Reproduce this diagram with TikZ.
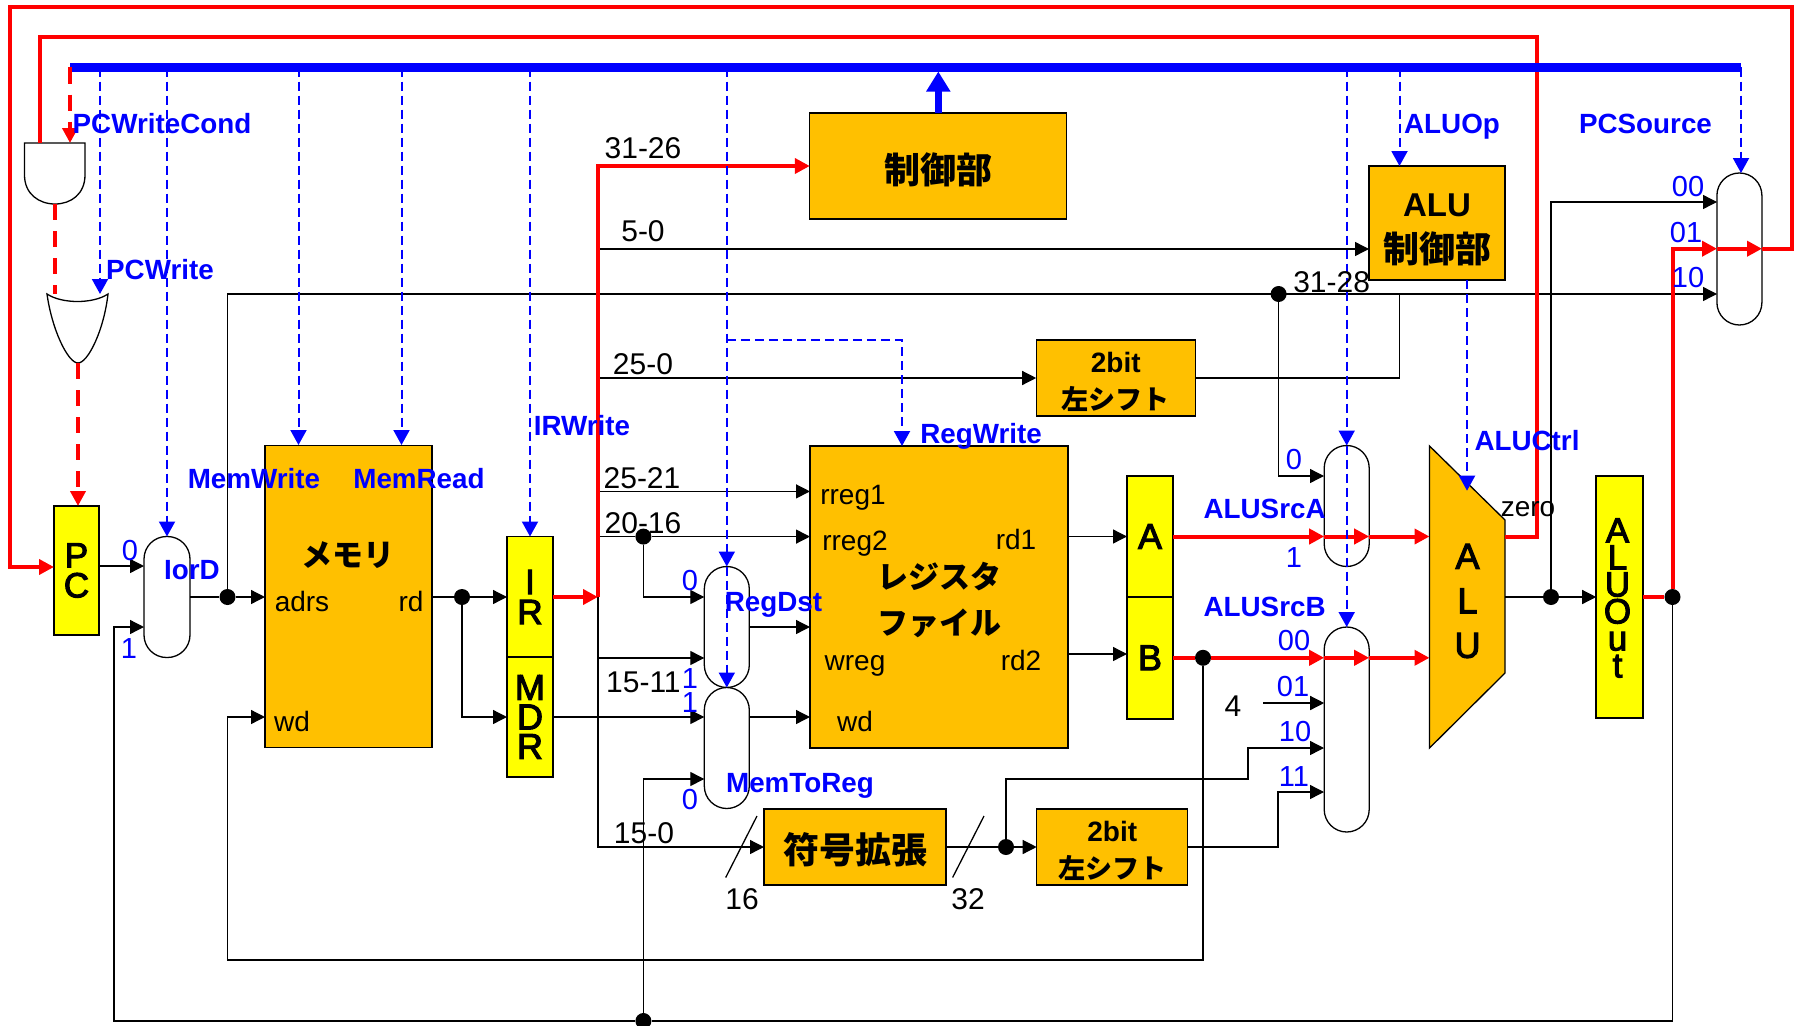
\documentclass[tikz,border=0pt]{standalone}
\usepackage{fontspec}
\setmainfont{Liberation Sans}
\newfontfamily\cjk{Noto Sans CJK JP}
\newfontfamily\heavy[FakeBold=3]{Liberation Sans}
\usetikzlibrary{calc,arrows.meta}
\definecolor{cblk}{HTML}{FFC000}
\definecolor{creg}{HTML}{FFFF00}
\definecolor{cred}{HTML}{FF0000}
\definecolor{cblu}{HTML}{0000FF}
\newcommand{\sz}[2]{\fontsize{#1}{#2}\selectfont}
\tikzset{
  block/.style={draw=black,fill=cblk,line width=1.3pt,inner sep=0pt,outer sep=0pt},
  regbox/.style={draw=black,fill=creg,line width=1.7pt,inner sep=0pt,outer sep=0pt,align=center},
  mux/.style={draw=black,fill=white,line width=1.3pt,rounded corners=22.5pt,inner sep=0pt,outer sep=0pt},
  gate/.style={draw=black,fill=white,line width=1.3pt},
  wire/.style={draw=black,line width=1.3pt},
  hot/.style={draw=cred,line width=4pt,>={Triangle[length=15pt,width=15pt]}},
  hotdash/.style={hot,dash pattern=on 16pt off 11pt},
  ctl/.style={draw=cblu,line width=2pt,dash pattern=on 9pt off 5pt,>={Triangle[length=15pt,width=16pt]}},
  junc/.style={circle,fill=black,inner sep=0pt,minimum size=16pt},
  sig/.style={text=cblu,inner sep=0pt,text height=20pt,text depth=0pt,font=\bfseries\sz{27.8}{27.8}},
  sel/.style={text=cblu,inner sep=0pt,font=\sz{29}{29}},
  port/.style={inner sep=0pt,font=\sz{28}{28}},
  bits/.style={inner sep=0pt,font=\sz{30}{30}},
  title/.style={inner sep=0pt,align=center,font=\cjk\bfseries\sz{36}{36}}
}
\begin{document}
\begin{tikzpicture}[x=1pt,y=-1pt,>={Triangle[length=14pt,width=14pt]}]
    \useasboundingbox (0,0) rectangle (1798,1025);
    % registers
    \node[regbox,minimum width=45pt,minimum height=129pt,font=\heavy\sz{35}{30}] (pc) at (76.5,570.5) {P\\C};
    \node[regbox,minimum width=46pt,minimum height=121pt,font=\heavy\sz{35}{30}] (ir) at (530,597) {I\\R};
    \node[regbox,minimum width=46pt,minimum height=120pt,font=\heavy\sz{36}{29.5}] (mdr) at (530,717) {M\\D\\R};
    \node[regbox,minimum width=46pt,minimum height=121pt,font=\heavy\sz{36}{36}] (rega) at (1150,536.5) {A};
    \node[regbox,minimum width=46pt,minimum height=122pt,font=\heavy\sz{36}{36}] (regb) at (1150,657.8) {B};
    \node[regbox,minimum width=47pt,minimum height=242pt] (aluout) at (1619.7,597) {};
    \node[inner sep=0pt,align=center,font=\heavy\sz{35}{27}] (aluoutname) at (1617.5,598) {A\\L\\U\\O\\u\\t};
    % blocks
    \node[block,minimum width=167pt,minimum height=302pt] (mem) at (348.5,596.5) {};
    \node[title,font=\cjk\bfseries\sz{31}{31}] (memname) at (348,555) {メモリ};
    \node[block,minimum width=257pt,minimum height=106pt] (ctrl) at (938.3,166) {};
    \node[title] (ctrlname) at (938.3,169.5) {制御部};
    \node[block,minimum width=136pt,minimum height=114pt] (aluctl) at (1437,223) {};
    \node[title,font=\cjk\bfseries\sz{36}{46}] (aluctlname) at (1437,230) {{\rmfamily\bfseries\sz{33}{46}ALU}\\制御部};
    \node[block,minimum width=159pt,minimum height=76pt] (sft1) at (1115.7,378) {};
    \node[title,font=\cjk\bfseries\sz{27}{37}] (sft1name) at (1115.7,381.5) {{\rmfamily\bfseries\sz{28}{37}2bit}\\左シフト};
    \node[block,minimum width=258pt,minimum height=302pt] (rf) at (939,597) {};
    \node[title,font=\cjk\bfseries\sz{31}{46}] (rfname) at (939,600) {レジスタ\\ファイル};
    \node[block,minimum width=182pt,minimum height=76pt] (ext) at (855,847) {};
    \node[title] (extname) at (855,849.5) {符号拡張};
    \node[block,minimum width=151pt,minimum height=76pt] (sft2) at (1112.2,847) {};
    \node[title,font=\cjk\bfseries\sz{27}{37}] (sft2name) at (1112.2,850.5) {{\rmfamily\bfseries\sz{28}{37}2bit}\\左シフト};
    \draw[block] (1429.5,446) -- (1505,520) -- (1505,673) -- (1429.5,748) -- cycle;
    \node[inner sep=0pt,align=center,font=\heavy\sz{36}{44.5}] (aluname) at (1467.5,601) {A\\L\\U};
    % muxes
    \node[mux,minimum width=46pt,minimum height=121pt] (iord) at (167,597) {};
    \node[mux,minimum width=45pt,minimum height=121pt] (regdst) at (726.8,627) {};
    \node[mux,minimum width=45pt,minimum height=121pt] (memreg) at (726.8,748) {};
    \node[mux,minimum width=45pt,minimum height=121pt] (muxa) at (1346.7,506) {};
    \node[mux,minimum width=45pt,minimum height=205pt] (muxb) at (1346.7,729.5) {};
    \node[mux,minimum width=45pt,minimum height=152pt] (pcs) at (1739.4,249) {};
    % gates
    \draw[gate] (24.5,143) -- (85,143) -- (85,175) .. controls (85,194) and (71,204) .. (55,204)
      .. controls (39,204) and (24.5,194) .. (24.5,175) -- cycle;
    \draw[gate] (47,294) .. controls (62,304) and (93,304) .. (108,294)
      .. controls (104,330) and (88,363) .. (78,363) .. controls (68,363) and (52,330) .. (47,294) -- cycle;
    % junctions
    \node[junc] (jmem) at (227.5,597) {};
    \node[junc] (jrd) at (462,597) {};
    \node[junc] (j2016) at (643.4,536.6) {};
    \node[junc] (jbot) at (643.4,1021) {};
    \node[junc] (jb) at (1203,657.8) {};
    \node[junc] (jext) at (1006,847) {};
    \node[junc] (jsft) at (1278.6,294) {};
    \node[junc] (jalu) at (1551,597) {};
    \node[junc] (jout) at (1672.5,597) {};
    % ports and corners
    \coordinate (busl) at (70,67.5);
    \coordinate (busr) at (1741,67.5);
    \coordinate (iorda) at (144,566);
    \coordinate (iordb) at (144,627);
    \coordinate (botl) at (114,1021);
    \coordinate (wbl) at (227.5,960);
    \coordinate (memwd) at (265,717);
    \coordinate (pcsa) at (1717,202);
    \coordinate (pcsb) at (1717,248.7);
    \coordinate (pcsc) at (1717,294);
    \coordinate (pcse) at (1762,248.7);
    \coordinate (pcst) at (1741,173);
    \coordinate (jir) at (598,597);
    \coordinate (t50) at (598,249);
    \coordinate (t250) at (598,378);
    \coordinate (t2521) at (598,491.4);
    \coordinate (t2016) at (598,536.6);
    \coordinate (t1511) at (598,658);
    \coordinate (rdsta) at (704.3,597);
    \coordinate (mrb) at (704.3,779);
    \coordinate (rfb) at (1068,654);
    \coordinate (maa) at (1324,476);
    \coordinate (mb4) at (1263.4,703);
    \coordinate (mbc) at (1324,748);
    \coordinate (mbck) at (1248,779);
    \coordinate (mbd) at (1324,792);
    \coordinate (mbdk) at (1278,792);
    \coordinate (sftk) at (1399.5,294);
    \coordinate (alua) at (1429.5,536.5);
    \coordinate (alub) at (1429.5,657.8);
    \coordinate (aluz) at (1505,536.5);
    \coordinate (alur) at (1505,597);
    \coordinate (zerotop) at (1536.7,37);
    \coordinate (andr) at (40,143);
    \coordinate (andin) at (70,143);
    \coordinate (andout) at (55,204);
    \coordinate (orin) at (55,294);
    \coordinate (orinb) at (100,294);
    \coordinate (orout) at (78,363);
    \coordinate (loopr) at (1792,248.7);
    \coordinate (loopl) at (9.6,7);
    \coordinate (pcin) at (54,567);
    \coordinate (memw) at (298.5,445);
    \coordinate (memr) at (401.5,445);
    \coordinate (rwk) at (902,340);
    \coordinate (rfw) at (902,446);
    \coordinate (aluop) at (1399.5,166);
    \coordinate (aluct) at (1467,490.7);
    % data wires
    \draw[wire,->] (pc.east |- iorda) -- (iorda);
    \draw[wire,->] (jbot) -- (botl) |- (iordb);
    \draw[wire] (jout) |- (jbot);
    \draw[wire] (iord) -- (jmem);
    \draw[wire,->] (jmem) -- (mem.west |- jmem);
    \draw[wire,->] (jmem) |- (pcsc);
    \draw[wire,->] (jb) |- (wbl) |- (memwd);
    \draw[wire] (mem.east |- jrd) -- (jrd);
    \draw[wire,->] (jrd) -- (ir);
    \draw[wire,->] (jrd) |- (mdr);
    \draw[wire,->] (jir) |- (ext);
    \draw[wire,->] (t50) -- (aluctl.west |- t50);
    \draw[wire,->] (t250) -- (sft1);
    \draw[wire,->] (t2521) -- (rf.west |- t2521);
    \draw[wire] (t2016) -- (j2016);
    \draw[wire,->] (j2016) -- (rf.west |- j2016);
    \draw[wire,->] (j2016) |- (rdsta);
    \draw[wire,->] (t1511) -- (regdst.west |- t1511);
    \draw[wire,->] (regdst) -- (rf.west |- regdst);
    \draw[wire,->] (mdr) -- (memreg.west |- mdr);
    \draw[wire,->] (memreg.east |- mdr) -- (rf.west |- mdr);
    \draw[wire,->] (jbot) |- (mrb);
    \draw[wire] (ext) -- (jext);
    \draw[wire,->] (jext) -- (sft2);
    \draw[wire,->] (jext) |- (mbck) |- (mbc);
    \draw[wire,->] (sft2) -| (mbdk) -- (mbd);
    \draw[wire,->] (mb4) -- (muxb.west |- mb4);
    \draw[wire,->] (rf.east |- rega) -- (rega);
    \draw[wire,->] (rfb) -- (regb.west |- rfb);
    \draw[wire,->] (jsft) |- (maa);
    \draw[wire] (sft1) -| (sftk);
    \draw[wire] (alur) -- (jalu);
    \draw[wire,->] (jalu) -- (aluout);
    \draw[wire,->] (jalu) |- (pcsa);
    % bit width ticks
    \draw[wire] (757,816) -- (725.7,877.5);
    \draw[wire] (984,816) -- (952.6,877.5);
    % hot paths
    \draw[hotdash] (andout) -- (orin);
    \draw[hotdash,->] (orout) -- (orout |- pc.north);
    \draw[hot,->] (ir) -- (jir);
    \draw[hot,->] (jir) |- (ctrl);
    \draw[hot,->] (rega) -- (muxa.west |- rega);
    \draw[hot,->] (muxa.west |- rega) -- (muxa.east |- rega);
    \draw[hot,->] (muxa.east |- rega) -- (alua);
    \draw[hot] (regb) -- (jb);
    \draw[hot,->] (jb) -- (muxb.west |- jb);
    \draw[hot,->] (muxb.west |- jb) -- (muxb.east |- jb);
    \draw[hot,->] (muxb.east |- jb) -- (alub);
    \draw[hot] (aluz) -| (zerotop) -| (andr);
    \draw[hot] (aluout) -- (jout);
    \draw[hot,->] (jout) |- (pcsb);
    \draw[hot,->] (pcsb) -- (pcse);
    \draw[hot,->] (pcse) -- (loopr) |- (loopl) |- (pcin);
    % control lines
    \draw[ctl,->] (orinb |- busl) -- (orinb);
    \draw[ctl,->] (iord |- busl) -- (iord.north);
    \draw[ctl,->] (memw |- busl) -- (memw);
    \draw[ctl,->] (memr |- busl) -- (memr);
    \draw[ctl,->] (ir |- busl) -- (ir.north);
    \draw[ctl,->] (regdst |- busl) -- (regdst.north);
    \draw[ctl,->] (regdst.north) -- (memreg.north);
    \draw[ctl,->] (regdst |- rwk) -| (rfw);
    \draw[ctl,->] (muxa |- busl) -- (muxa.north);
    \draw[ctl,->] (muxa.north) -- (muxb.north);
    \draw[ctl,->] (aluop |- busl) -- (aluop);
    \draw[ctl,->] (pcst |- busl) -- (pcst);
    \draw[ctl,->] (aluct |- aluctl.south) -- (aluct);
    \draw[draw=cblu,line width=8pt] (busl) -- (busr);
    \draw[draw=cblu,line width=7pt,-{Triangle[length=20pt,width=23pt]},shorten >=4pt] (ctrl) -- (ctrl |- busl);
    \draw[hotdash,->] (busl) -- (andin);
    % control labels
    \node[sig] (lcond) at (162,123) {PCWriteCond};
    \node[sig] (lpcw) at (160,269) {PCWrite};
    \node[sig] (liord) at (192,569) {IorD};
    \node[sig] (lmemw) at (254,478) {MemWrite};
    \node[sig] (lmemr) at (419,478) {MemRead};
    \node[sig] (lirw) at (582,425) {IRWrite};
    \node[sig] (lrdst) at (773.5,601) {RegDst};
    \node[sig] (lrw) at (981,433) {RegWrite};
    \node[sig] (lm2r) at (800,782) {MemToReg};
    \node[sig] (laop) at (1452,123) {ALUOp};
    \node[sig] (lpcs) at (1645.5,123) {PCSource};
    \node[sig] (lactl) at (1527,440) {ALUCtrl};
    \node[sig] (lsa) at (1264.6,508) {ALUSrcA};
    \node[sig] (lsb) at (1264.6,606) {ALUSrcB};
    % mux input numbers
    \node[sel] (s1) at (130,551) {0};
    \node[sel] (s2) at (129,649) {1};
    \node[sel] (s3) at (690,581) {0};
    \node[sel] (s4) at (690,679) {1};
    \node[sel] (s5) at (690,703) {1};
    \node[sel] (s6) at (690,800) {0};
    \node[sel] (s7) at (1294,460) {0};
    \node[sel] (s8) at (1294,558) {1};
    \node[sel] (s9) at (1294,641) {00};
    \node[sel] (s10) at (1293,687) {01};
    \node[sel] (s11) at (1295,732) {10};
    \node[sel] (s12) at (1294,777) {11};
    \node[sel] (s13) at (1688,187) {00};
    \node[sel] (s14) at (1686,233) {01};
    \node[sel] (s15) at (1688,278) {10};
    % port names
    \node[port] (padrs) at (302,601) {adrs};
    \node[port] (prd) at (411,601) {rd};
    \node[port] (pwd) at (292,721) {wd};
    \node[port] (prr1) at (853,498) {rreg1};
    \node[port] (prr2) at (855,543.5) {rreg2};
    \node[port] (pr1) at (1016,539) {rd1};
    \node[port] (pwr) at (855,666) {wreg};
    \node[port] (pr2) at (1021,660) {rd2};
    \node[port] (pwd2) at (855,721) {wd};
    \node[port] (pz) at (1528,509) {zero};
    % instruction fields
    \node[bits] (b1) at (643,148) {31-26};
    \node[bits] (b2) at (643,231) {5-0};
    \node[bits] (b3) at (643,364) {25-0};
    \node[bits] (b4) at (642,478) {25-21};
    \node[bits] (b5) at (643,523.5) {20-16};
    \node[bits] (b6) at (643.4,682.5) {15-11};
    \node[bits] (b7) at (644,833) {15-0};
    \node[bits] (b8) at (742,899.5) {16};
    \node[bits] (b9) at (968,899.5) {32};
    \node[bits] (b10) at (1331.6,282) {31-28};
    \node[bits] (b11) at (1233,706) {4};
\end{tikzpicture}
\end{document}
